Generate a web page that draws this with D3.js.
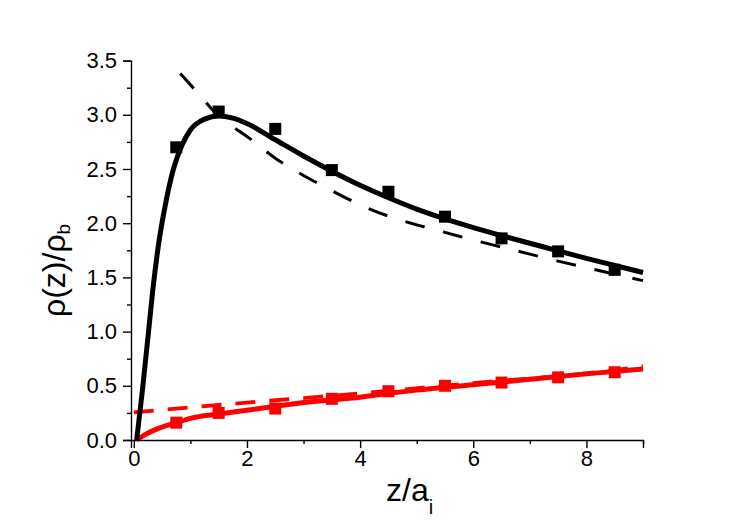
<!DOCTYPE html>
<html>
<head>
<meta charset="utf-8">
<script src="https://cdn.jsdelivr.net/npm/d3@7"></script>
<style>
  body { margin: 0; background: #fff; }
  svg { display: block; font-family: "Liberation Sans", Arial, sans-serif; }
</style>
</head>
<body>
<script>
'use strict';

//simulation points (bin centres)
var binX = [0.75, 1.5, 2.5, 3.5, 4.5, 5.5, 6.5, 7.5, 8.5];
var blackSim = [2.70, 3.03, 2.87, 2.49, 2.29, 2.06, 1.86, 1.74, 1.57];
var redSim = [0.16, 0.25, 0.29, 0.38, 0.45, 0.50, 0.53, 0.578, 0.625];

//black solid curve
var blackFitX = [0.05, 0.15, 0.25, 0.35, 0.45, 0.55, 0.7, 0.85, 1.0, 1.25, 1.5, 1.75, 2, 2.5, 3, 3.5, 4, 4.5, 5, 5.5, 6, 6.5, 7, 7.5, 8, 8.5, 9];
var blackFitY = [0, 0.45, 0.95, 1.45, 1.85, 2.15, 2.5, 2.72, 2.86, 2.96, 2.99, 2.97, 2.92, 2.77, 2.62, 2.48, 2.35, 2.235, 2.13, 2.04, 1.96, 1.885, 1.815, 1.745, 1.675, 1.61, 1.545];

//black dashed curve
var blackDashX = [0.82, 1.1, 1.5, 1.75, 2, 2.5, 3, 3.5, 4, 4.5, 5, 5.5, 6, 6.5, 7, 7.5, 8, 8.5, 9];
var blackDashY = [3.38, 3.22, 2.99, 2.89, 2.8, 2.6, 2.44, 2.3, 2.17, 2.065, 1.985, 1.915, 1.845, 1.78, 1.715, 1.65, 1.59, 1.53, 1.47];

//red solid curve
var redFitX = [0.05, 0.2, 0.4, 0.75, 1.0, 1.5, 2, 2.5, 3, 3.5, 4, 4.5, 5, 6, 7, 8, 9];
var redFitY = [0, 0.05, 0.1, 0.16, 0.2, 0.24, 0.275, 0.31, 0.345, 0.37, 0.395, 0.43, 0.46, 0.51, 0.56, 0.61, 0.655];

//red dashed curve
var redDashX = [0, 2, 4, 6, 8, 9];
var redDashY = [0.255, 0.345, 0.43, 0.525, 0.615, 0.68];

//ticks
var xMajor = [0, 2, 4, 6, 8];
var xMinor = [1, 3, 5, 7, 9];
var yMajor = [0, 0.5, 1.0, 1.5, 2.0, 2.5, 3.0, 3.5];
var yMinor = [0.25, 0.75, 1.25, 1.75, 2.25, 2.75, 3.25];

//general setup
var width = 747, height = 528;
var svg = d3.select('body').append('svg').attr('width', width).attr('height', height);

//scales
var xScale = d3.scaleLinear().domain([-0.05, 9]).range([131, 643]);
var yScale = d3.scaleLinear().domain([0, 3.5]).range([440, 60.6]);

function pairs(xs, ys) {
  return xs.map(function (x, i) { return [x, ys[i]]; });
}

var line = d3.line().x(function (d) { return xScale(d[0]); }).y(function (d) { return yScale(d[1]); }).curve(d3.curveMonotoneX);

//curves
svg.append('path').datum(pairs(redDashX, redDashY)).attr('d', line).attr('fill', 'none').attr('stroke', '#ff0000').attr('stroke-width', 3.8).attr('stroke-dasharray', '20,14');
svg.append('path').datum(pairs(redFitX, redFitY)).attr('d', line).attr('fill', 'none').attr('stroke', '#ff0000').attr('stroke-width', 5);
svg.append('path').datum(pairs(blackDashX, blackDashY)).attr('d', line).attr('fill', 'none').attr('stroke', '#000').attr('stroke-width', 3).attr('stroke-dasharray', '20,19');
svg.append('path').datum(pairs(blackFitX, blackFitY)).attr('d', line).attr('fill', 'none').attr('stroke', '#000').attr('stroke-width', 5);

//square markers
var sq = 12;
svg.append('g').selectAll('rect').data(pairs(binX, blackSim)).enter().append('rect')
  .attr('x', function (d) { return xScale(d[0]) - sq / 2; })
  .attr('y', function (d) { return yScale(d[1]) - sq / 2; })
  .attr('width', sq).attr('height', sq).attr('fill', '#000');
svg.append('g').selectAll('rect').data(pairs(binX, redSim)).enter().append('rect')
  .attr('x', function (d) { return xScale(d[0]) - sq / 2; })
  .attr('y', function (d) { return yScale(d[1]) - sq / 2; })
  .attr('width', sq).attr('height', sq).attr('fill', '#ff0000');

//x-axis
svg.append('g').attr('transform', 'translate(0,440)')
  .call(d3.axisBottom(xScale).tickValues(xMajor).tickFormat(d3.format('d')).tickSize(8).tickPadding(2));
svg.append('g').attr('transform', 'translate(0,440)')
  .call(d3.axisBottom(xScale).tickValues(xMinor).tickFormat('').tickSize(4))
  .select('.domain').remove();

//y-axis
svg.append('g').attr('transform', 'translate(131,0)')
  .call(d3.axisLeft(yScale).tickValues(yMajor).tickFormat(d3.format('.1f')).tickSize(8).tickPadding(6));
svg.append('g').attr('transform', 'translate(131,0)')
  .call(d3.axisLeft(yScale).tickValues(yMinor).tickFormat('').tickSize(4))
  .select('.domain').remove();

svg.selectAll('.domain, .tick line').attr('stroke', '#000').attr('stroke-width', 1.4);
svg.selectAll('.tick text').style('font-size', '22px').style('font-family', '"Liberation Sans", Arial, sans-serif').attr('fill', '#000');

//axis titles
var xt = svg.append('text').attr('x', 386).attr('y', 501).style('font-size', '32px');
xt.append('tspan').text('z/a');
xt.append('tspan').attr('dy', 13).style('font-size', '20px').text('i');

var yt = svg.append('text').attr('transform', 'translate(65,317) rotate(-90)').style('font-size', '32px');
yt.append('tspan').text('ρ(z)/ρ');
yt.append('tspan').attr('dy', 5).style('font-size', '19px').text('b');
</script>
</body>
</html>
